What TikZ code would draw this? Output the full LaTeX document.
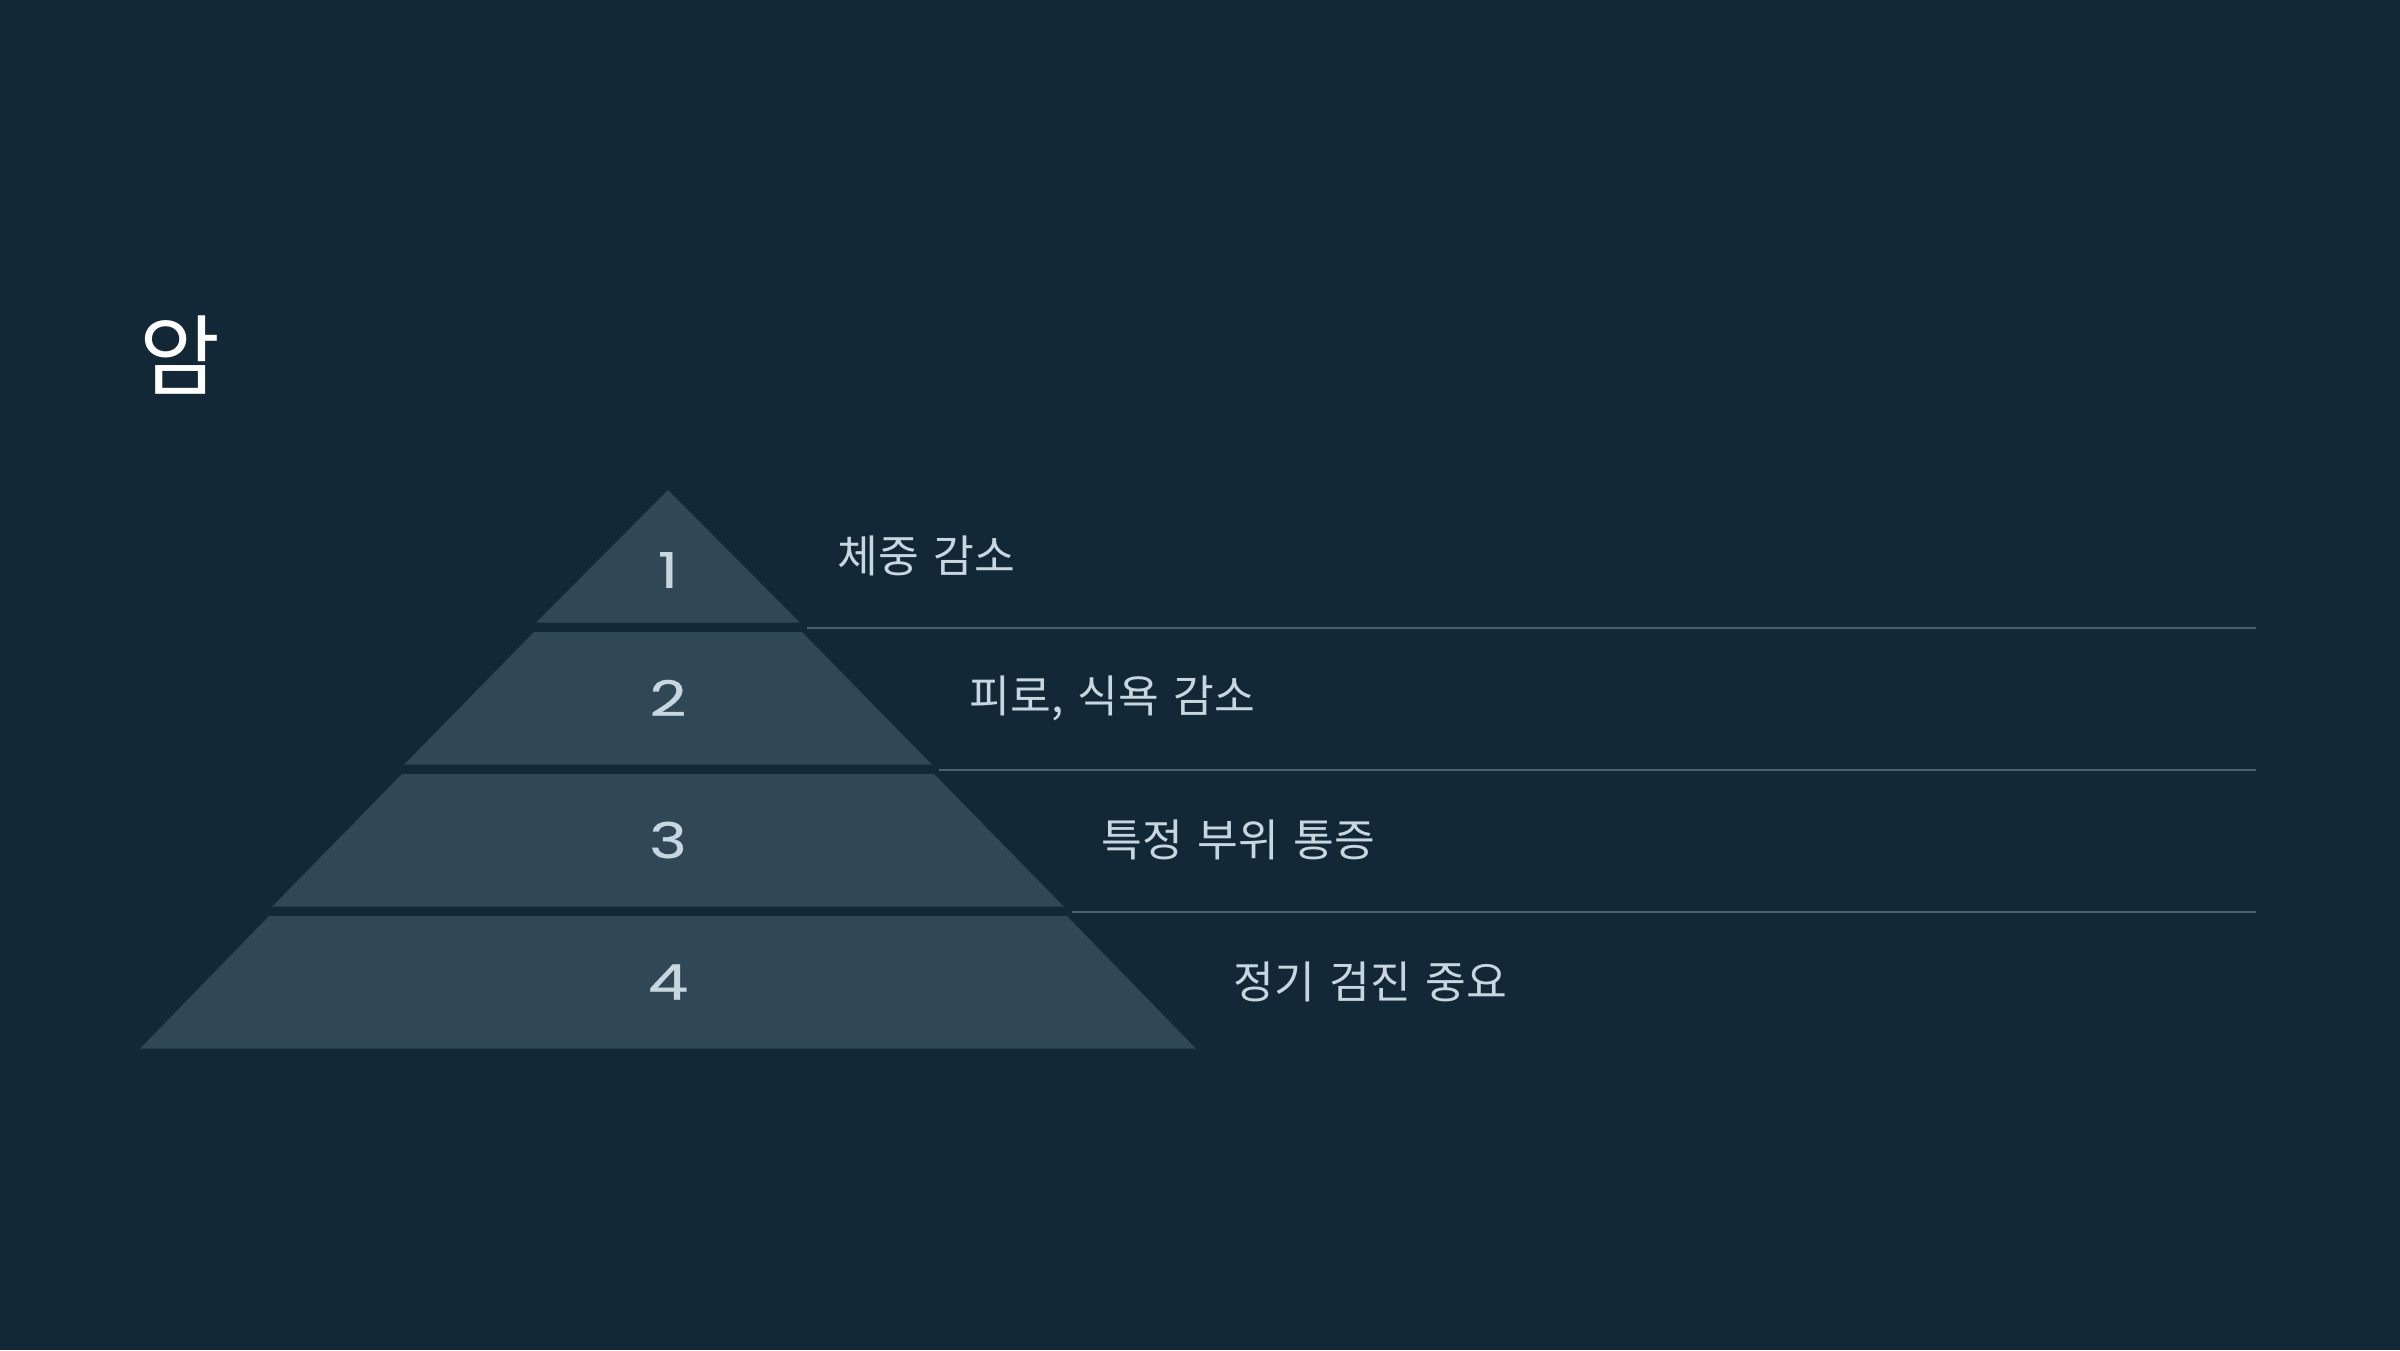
\documentclass[tikz,border=0pt]{standalone}
\usepackage{fontspec}
\newfontfamily\kr[WordSpace=1.45]{Noto Sans CJK KR}
\newfontfamily\digitfont[FakeStretch=1.3,FakeBold=0.6]{Poppins}
\definecolor{bg}{RGB}{19,40,55}
\definecolor{tierfill}{RGB}{48,72,86}
\definecolor{sepline}{RGB}{74,96,112}
\definecolor{txt}{RGB}{200,214,224}
\tikzset{
  tier/.style={fill=tierfill, draw=none},
  sep/.style={draw=sepline, line width=0.6pt},
  numlabel/.style={text=txt, inner sep=0pt, font=\digitfont\fontsize{14pt}{16pt}\selectfont},
  desc/.style={text=txt, inner sep=0pt, anchor=west, font=\kr\fontsize{12.6pt}{14pt}\selectfont},
}
\begin{document}
\begin{tikzpicture}[x=0.01cm, y=-0.01cm]
\fill[bg] (0,0) rectangle (2400,1350);
\useasboundingbox (0,0) rectangle (2400,1350);
% title
\node[text=white, inner sep=0pt, anchor=west, font=\kr\fontsize{25pt}{28pt}\selectfont] (title) at (139,355) {암};
% pyramid tiers
\fill[tier] (668,490) -- (800,622.7) -- (536,622.7) -- cycle;
\fill[tier] (534,632) -- (802,632) -- (932,764.7) -- (404,764.7) -- cycle;
\fill[tier] (402,774) -- (934,774) -- (1064,906.7) -- (272,906.7) -- cycle;
\fill[tier] (269,916) -- (1067,916) -- (1196,1048.7) -- (140,1048.7) -- cycle;
% numbers
\node[numlabel] (n1) at (668,570) {1};
\node[numlabel] (n2) at (668,698) {2};
\node[numlabel] (n3) at (668,840) {3};
\node[numlabel] (n4) at (668,982) {4};
% separator lines
\coordinate (s1a) at (807,627.7);  \coordinate (s1b) at (2256,627.7);
\coordinate (s2a) at (939,770);    \coordinate (s2b) at (2256,770);
\coordinate (s3a) at (1072,911.7); \coordinate (s3b) at (2256,911.7);
\draw[sep] (s1a) -- (s1b);
\draw[sep] (s2a) -- (s2b);
\draw[sep] (s3a) -- (s3b);
% descriptions
\node[desc] (d1) at (837,556) {체중 감소};
\node[desc] (d2) at (969,698) {피로, 식욕 감소};
\node[desc] (d3) at (1101,840) {특정 부위 통증};
\node[desc] (d4) at (1233,982) {정기 검진 중요};
\end{tikzpicture}
\end{document}
